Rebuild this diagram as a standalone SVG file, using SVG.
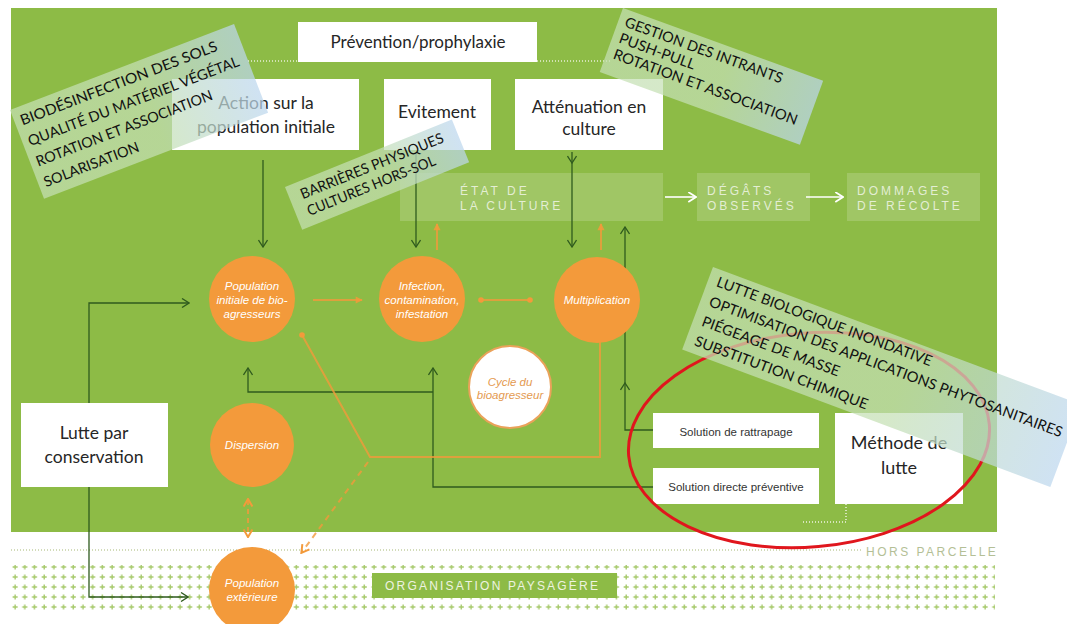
<svg xmlns="http://www.w3.org/2000/svg" width="1067" height="624" viewBox="0 0 1067 624">
<style>
.box{fill:#ffffff}
.bt{font-family:Lato,"Liberation Sans",sans-serif;fill:#262626;text-anchor:middle}
.ct{font-family:"Liberation Sans",Arial,sans-serif;font-style:italic;font-size:11.5px;fill:#ffffff;text-anchor:middle}
.orange{fill:#f39a3b}
.stage{fill:#ffffff;fill-opacity:0.17}
.st{font-family:"Liberation Sans",Arial,sans-serif;font-size:12px;letter-spacing:3px;fill:#ffffff;fill-opacity:0.72}
.note{fill:url(#noteGrad);fill-opacity:0.72}
.nt{font-family:Lato,"Liberation Sans",sans-serif;font-size:14.5px;fill:#111111}
.dk{fill:none;stroke:#2f5b1e;stroke-width:1.3;marker-end:url(#chev)}
.or{fill:none;stroke:#f39a3b;stroke-width:2;stroke-opacity:0.8}
.sol{font-family:"Liberation Sans",Arial,sans-serif;font-size:11.5px;fill:#333333;text-anchor:middle}
</style>
<defs>
<linearGradient id="noteGrad" x1="0" y1="0" x2="1" y2="0">
<stop offset="0" stop-color="#c5e0b4"/>
<stop offset="0.55" stop-color="#c5e0b4"/>
<stop offset="1" stop-color="#bdd7ee"/>
</linearGradient>
<pattern id="plus" x="11" y="562" width="9.7" height="10" patternUnits="userSpaceOnUse">
<path d="M1.6,5 H6.6 M4.1,2.5 V7.5" stroke="#a6c96a" stroke-width="1.4" fill="none"/>
</pattern>
<marker id="chev" viewBox="0 0 10 10" refX="9" refY="5" markerWidth="10" markerHeight="10" markerUnits="userSpaceOnUse" orient="auto">
<path d="M2,0.5 L9,5 L2,9.5" fill="none" stroke="#2f5b1e" stroke-width="1.3"/>
</marker>
<marker id="wchev" viewBox="0 0 10 10" refX="9" refY="5" markerWidth="11" markerHeight="11" markerUnits="userSpaceOnUse" orient="auto">
<path d="M2,0.5 L9,5 L2,9.5" fill="none" stroke="#ffffff" stroke-width="1.6"/>
</marker>
<marker id="otri" viewBox="0 0 10 10" refX="8" refY="5" markerWidth="9" markerHeight="9" markerUnits="userSpaceOnUse" orient="auto-start-reverse">
<path d="M1,1 L9,5 L1,9 Z" fill="#f39a3b" fill-opacity="0.85"/>
</marker>
<marker id="ochev" viewBox="0 0 10 10" refX="8" refY="5" markerWidth="11" markerHeight="11" markerUnits="userSpaceOnUse" orient="auto-start-reverse">
<path d="M2,1 L9,5 L2,9" fill="none" stroke="#f39a3b" stroke-width="1.8"/>
</marker>
<marker id="odot" viewBox="0 0 10 10" refX="5" refY="5" markerWidth="7" markerHeight="7" markerUnits="userSpaceOnUse">
<circle cx="5" cy="5" r="4" fill="#f39a3b"/>
</marker>
</defs>

<rect x="0" y="0" width="1067" height="624" fill="#ffffff"/>

<g id="background">
<rect x="11" y="8" width="986" height="524" fill="#8dbb46"/>
<line x1="11" y1="550" x2="862" y2="550" stroke="#c4cfa2" stroke-width="1.5" stroke-dasharray="1,2"/>
<rect x="11" y="565" width="984" height="47" fill="url(#plus)"/>
</g>

<g id="hors-parcelle">
<text x="866" y="556" font-family="'Liberation Sans',Arial,sans-serif" font-size="12" letter-spacing="2.5" fill="#b4bf96">HORS PARCELLE</text>
</g>

<g id="organisation-paysagere">
<rect x="372" y="573" width="245" height="25" fill="#8dbb46"/>
<text x="385" y="590" font-family="'Liberation Sans',Arial,sans-serif" font-size="12" letter-spacing="2.2" fill="#eef3e0">ORGANISATION PAYSAGÈRE</text>
</g>

<g id="stage-etat">
<rect class="stage" x="400" y="173" width="263" height="48"/>
<text class="st" x="460" y="195">ÉTAT DE</text>
<text class="st" x="460" y="210">LA CULTURE</text>
</g>
<g id="stage-degats">
<rect class="stage" x="697" y="173" width="113" height="48"/>
<text class="st" x="707" y="195">DÉGÂTS</text>
<text class="st" x="707" y="210">OBSERVÉS</text>
</g>
<g id="stage-dommages">
<rect class="stage" x="847" y="173" width="133" height="48"/>
<text class="st" x="857" y="195">DOMMAGES</text>
<text class="st" x="857" y="210">DE RÉCOLTE</text>
</g>

<g id="connectors">
<path d="M248,61 H298 M537,61 H612" stroke="#e8f0d8" stroke-width="1.5" stroke-dasharray="1,2" fill="none"/>
<path d="M846,504 V522 H803" stroke="#f0f4e4" stroke-width="1.5" stroke-dasharray="1,2" fill="none"/>
<path d="M665,197 H696" stroke="#ffffff" stroke-width="1.6" fill="none" marker-end="url(#wchev)"/>
<path d="M806,197 H843" stroke="#ffffff" stroke-width="1.6" fill="none" marker-end="url(#wchev)"/>
<path class="dk" d="M263,160 V247"/>
<path class="dk" d="M416,152 V247"/>
<path class="dk" d="M572,152 V163"/>
<path class="dk" d="M572,163 V247"/>
<path class="dk" d="M653,430 H625 V383"/>
<path class="dk" d="M625,383 V227"/>
<path class="dk" d="M653,487 H433 V368"/>
<path class="dk" d="M433,392 H248 V368"/>
<path class="dk" d="M89,403 V303 H189"/>
<path class="dk" d="M89,487 V597 H188"/>
<path class="or" d="M313,300 H362" stroke-opacity="0.6" marker-end="url(#otri)"/>
<path class="or" d="M481,300 H530" marker-start="url(#odot)" marker-end="url(#odot)"/>
<path class="or" d="M437,250 V224" marker-end="url(#otri)"/>
<path class="or" d="M601,250 V224" marker-end="url(#otri)"/>
<path class="or" d="M600,342 V457 H370 L302,335" marker-end="url(#odot)"/>
<path class="or" d="M368,462 L302,552" stroke-dasharray="6,5" marker-end="url(#ochev)"/>
<path class="or" d="M248,500 V536" stroke-dasharray="5,4" marker-start="url(#ochev)" marker-end="url(#ochev)"/>
</g>

<g id="prevention">
<rect class="box" x="298" y="22" width="239" height="40"/>
<text class="bt" x="418" y="48" font-size="17">Prévention/prophylaxie</text>
</g>
<g id="action">
<rect class="box" x="172" y="79" width="187" height="71"/>
<text class="bt" x="266" y="109" font-size="17.5">Action sur la</text>
<text class="bt" x="266" y="133" font-size="17.5">population initiale</text>
</g>
<g id="evitement">
<rect class="box" x="384" y="79" width="107" height="71"/>
<text class="bt" x="437" y="118" font-size="17.5">Evitement</text>
</g>
<g id="attenuation">
<rect class="box" x="515" y="79" width="148" height="71"/>
<text class="bt" x="589" y="113" font-size="17.5">Atténuation en</text>
<text class="bt" x="589" y="135" font-size="17.5">culture</text>
</g>
<g id="lutte-conservation">
<rect class="box" x="21" y="403" width="147" height="84"/>
<text class="bt" x="94" y="439" font-size="17.5">Lutte par</text>
<text class="bt" x="94" y="463" font-size="17.5">conservation</text>
</g>
<g id="solution-rattrapage">
<rect class="box" x="653" y="413" width="166" height="35"/>
<text class="sol" x="736" y="436">Solution de rattrapage</text>
</g>
<g id="solution-preventive">
<rect class="box" x="653" y="468" width="166" height="36"/>
<text class="sol" x="736" y="491">Solution directe préventive</text>
</g>
<g id="methode-lutte">
<rect class="box" x="835" y="413" width="128" height="91"/>
<text class="bt" x="899" y="449" font-size="18">Méthode de</text>
<text class="bt" x="899" y="474" font-size="18">lutte</text>
</g>

<g id="population-initiale">
<circle class="orange" cx="252" cy="299" r="43"/>
<text class="ct" x="252" y="290">Population</text>
<text class="ct" x="252" y="304">initiale de bio-</text>
<text class="ct" x="252" y="318">agresseurs</text>
</g>
<g id="infection">
<circle class="orange" cx="422" cy="299" r="43"/>
<text class="ct" x="422" y="290">Infection,</text>
<text class="ct" x="422" y="304">contamination,</text>
<text class="ct" x="422" y="318">infestation</text>
</g>
<g id="multiplication">
<circle class="orange" cx="597" cy="300" r="43"/>
<text class="ct" x="597" y="304">Multiplication</text>
</g>
<g id="cycle">
<circle cx="510" cy="387" r="41" fill="#ffffff" stroke="#eaa25a" stroke-width="2"/>
<text class="ct" x="510" y="386" fill="#e49a50" style="fill:#e49a50">Cycle du</text>
<text class="ct" x="510" y="399" style="fill:#e49a50">bioagresseur</text>
</g>
<g id="dispersion">
<circle class="orange" cx="252" cy="445" r="42"/>
<text class="ct" x="252" y="449">Dispersion</text>
</g>
<g id="population-exterieure">
<circle class="orange" cx="252" cy="590" r="43"/>
<text class="ct" x="252" y="587">Population</text>
<text class="ct" x="252" y="601">extérieure</text>
</g>

<g id="methode-highlight">
<ellipse cx="809" cy="440" rx="181" ry="107" transform="rotate(-5 809 440)" fill="none" stroke="#e0161d" stroke-width="3"/>
</g>

<g id="note-biodesinfection" transform="translate(10,110) rotate(-21)">
<rect class="note" x="0" y="0" width="240" height="95"/>
<text class="nt" x="6" y="19" textLength="210" lengthAdjust="spacingAndGlyphs">BIODÉSINFECTION DES SOLS</text>
<text class="nt" x="6" y="41" textLength="225" lengthAdjust="spacingAndGlyphs">QUALITÉ DU MATÉRIEL VÉGÉTAL</text>
<text class="nt" x="6" y="63" textLength="188" lengthAdjust="spacingAndGlyphs">ROTATION ET ASSOCIATION</text>
<text class="nt" x="6" y="85" textLength="101" lengthAdjust="spacingAndGlyphs">SOLARISATION</text>
</g>
<g id="note-barrieres" transform="translate(285,187) rotate(-22)">
<rect class="note" x="0" y="0" width="180" height="46"/>
<text class="nt" x="12" y="18" textLength="153" lengthAdjust="spacingAndGlyphs">BARRIÈRES PHYSIQUES</text>
<text class="nt" x="12" y="36" textLength="137" lengthAdjust="spacingAndGlyphs">CULTURES HORS-SOL</text>
</g>
<g id="note-gestion" transform="translate(623,8) rotate(20)">
<rect class="note" x="0" y="0" width="213" height="68"/>
<text class="nt" x="7" y="17" textLength="167" lengthAdjust="spacingAndGlyphs">GESTION DES INTRANTS</text>
<text class="nt" x="7" y="34" textLength="80" lengthAdjust="spacingAndGlyphs">PUSH-PULL</text>
<text class="nt" x="7" y="51" textLength="195" lengthAdjust="spacingAndGlyphs">ROTATION ET ASSOCIATION</text>
</g>
<g id="note-lutte" transform="translate(713,267) rotate(20.5)">
<rect class="note" x="0" y="0" width="393" height="88"/>
<text class="nt" x="9" y="17" textLength="229" lengthAdjust="spacingAndGlyphs">LUTTE BIOLOGIQUE INONDATIVE</text>
<text class="nt" x="9" y="38" textLength="376" lengthAdjust="spacingAndGlyphs">OPTIMISATION DES APPLICATIONS PHYTOSANITAIRES</text>
<text class="nt" x="9" y="59" textLength="146" lengthAdjust="spacingAndGlyphs">PIÉGEAGE DE MASSE</text>
<text class="nt" x="9" y="80" textLength="184" lengthAdjust="spacingAndGlyphs">SUBSTITUTION CHIMIQUE</text>
</g>
</svg>
